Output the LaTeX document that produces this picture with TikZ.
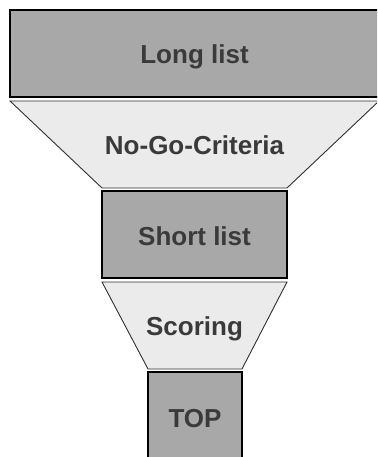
\documentclass[tikz,border=0pt]{standalone}
\usepackage{fontspec}
\setmainfont{Liberation Sans}
\definecolor{boxgray}{HTML}{A8A8A8}
\definecolor{lightfill}{HTML}{EBEBEB}
\definecolor{edgegray}{HTML}{303030}
\definecolor{txt}{HTML}{3A3A3A}
\begin{document}
\begin{tikzpicture}[x=1pt,y=-1pt,
  darkbox/.style={draw=black, line width=1.1pt, fill=boxgray},
  lightbox/.style={draw=edgegray, line width=0.9pt, fill=lightfill, line join=miter},
  lbl/.style={font=\bfseries\fontsize{26}{31}\selectfont, text=txt, anchor=base, inner sep=0pt}]
\useasboundingbox (0,0) rectangle (377,457);
\clip (0,0) rectangle (377,457);
\path[darkbox] (10,10) rectangle (381,97);
\path[lightbox] (10,101) -- (379,101) -- (287,188) -- (102,188) -- cycle;
\path[darkbox] (102,191) rectangle (287,278);
\path[lightbox] (102,282) -- (287,282) -- (242,369) -- (148,369) -- cycle;
\path[darkbox] (148,372) rectangle (242,462);
\node[lbl] (long) at (194.5,64) {Long list};
\node[lbl] (nogo) at (194.5,155) {No-Go-Criteria};
\node[lbl] (short) at (194.5,245) {Short list};
\node[lbl] (scoring) at (194.5,335) {Scoring};
\node[lbl] (top) at (195,427) {TOP};
\end{tikzpicture}
\end{document}
